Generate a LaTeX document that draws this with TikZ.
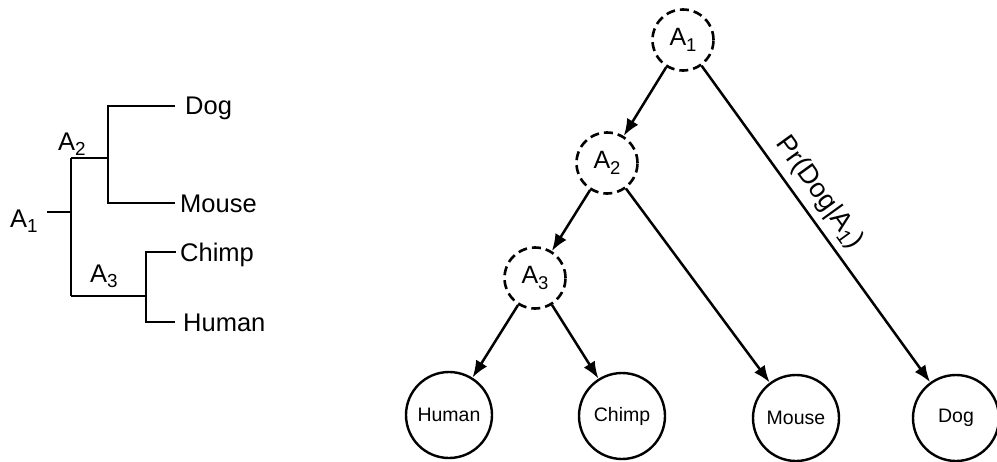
\documentclass[tikz,border=0pt]{standalone}
\usepackage{fontspec}
\setmainfont{Liberation Sans}
\usetikzlibrary{arrows.meta}
\newcommand\mysub[1]{\raisebox{-0.22em}{\scalebox{0.74}{#1}}}
\begin{document}
\begin{tikzpicture}[x=1pt,y=-1pt,
  lbl/.style={inner sep=0pt, font=\fontsize{25.5}{29}\selectfont, anchor=base west},
  br/.style={line width=2.3pt},
  anc/.style={circle, draw, dash pattern=on 9pt off 5pt, line width=2.6pt, minimum size=61pt, inner sep=0pt, font=\fontsize{25}{29}\selectfont},
  leaf/.style={circle, draw, line width=2.4pt, minimum size=86pt, inner sep=0pt, font=\fontsize{19.5}{23}\selectfont},
  arr/.style={-{Latex[length=17pt,width=13pt]}, line width=2.5pt},
]
\useasboundingbox (0,0) rectangle (997,461);
% left dendrogram
\node[lbl] (lA1) at (10,227) {A\mysub{1}};
\node[lbl] (lA2) at (58,150) {A\mysub{2}};
\node[lbl] (lA3) at (90,282) {A\mysub{3}};
\node[lbl] (lDog) at (185,114) {Dog};
\node[lbl] (lMouse) at (180,212) {Mouse};
\node[lbl] (lChimp) at (180,261) {Chimp};
\node[lbl] (lHuman) at (183,331) {Human};
\draw[br] (47,212) -- (71,212);
\draw[br] (71,158) -- (71,296);
\draw[br] (71,158) -- (108,158);
\draw[br] (175,106) -- (108,106) -- (108,203) -- (175,203);
\draw[br] (71,296) -- (146,296);
\draw[br] (176,252) -- (146,252) -- (146,322) -- (175,322);
% right tree
\node[anc] (a1) at (683,40) {A\mysub{1}};
\node[anc] (a2) at (607,163) {A\mysub{2}};
\node[anc] (a3) at (535,278) {A\mysub{3}};
\node[leaf] (human) at (449,415) {Human};
\node[leaf] (chimp) at (622,416) {Chimp};
\node[leaf] (mouse) at (796,418) {Mouse};
\node[leaf] (dog) at (956,418) {Dog};
\draw[arr] (a1) -- (a2);
\draw[arr] (a1) -- node[pos=.44, sloped, above=7pt, inner sep=0pt, font=\fontsize{27}{31}\selectfont] (prlbl) {Pr(Dog|A\mysub{1})} (dog);
\draw[arr] (a2) -- (a3);
\draw[arr] (a2) -- (mouse);
\draw[arr] (a3) -- (human);
\draw[arr] (a3) -- (chimp);
\end{tikzpicture}
\end{document}
